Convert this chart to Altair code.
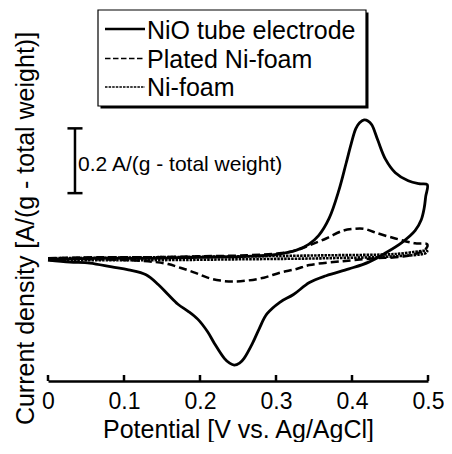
import altair as alt
import pandas as pd

FONT = "Liberation Sans"

SERIES = ["NiO tube electrode", "Plated Ni-foam", "Ni-foam"]

# NiO tube electrode: anodic sweep then cathodic sweep
NIO_V = [0.000, 0.068, 0.132, 0.197, 0.262, 0.301, 0.327, 0.343, 0.356, 0.370,
         0.383, 0.392, 0.399, 0.405, 0.410, 0.416, 0.421, 0.426, 0.434, 0.444,
         0.457, 0.474, 0.488, 0.499,
         0.497, 0.495, 0.491, 0.483, 0.466, 0.444, 0.422, 0.396, 0.366, 0.344,
         0.323, 0.305, 0.288, 0.278, 0.269, 0.258, 0.252, 0.245, 0.239, 0.232,
         0.219, 0.210, 0.197, 0.184, 0.171, 0.158, 0.145, 0.129, 0.106, 0.084,
         0.055, 0.029, 0.000]
NIO_I = [-0.004, -0.001, -0.001, 0.002, 0.005, 0.011, 0.024, 0.042, 0.069, 0.123,
         0.211, 0.290, 0.353, 0.399, 0.417, 0.426, 0.423, 0.411, 0.363, 0.305,
         0.263, 0.238, 0.229, 0.226,
         0.190, 0.154, 0.117, 0.084, 0.048, 0.015, -0.013, -0.034, -0.055, -0.076,
         -0.113, -0.137, -0.173, -0.218, -0.264, -0.310, -0.325, -0.331, -0.325, -0.310,
         -0.264, -0.228, -0.189, -0.164, -0.143, -0.113, -0.082, -0.052, -0.037, -0.028,
         -0.016, -0.013, -0.007]

PLATED_V = [0.000, 0.068, 0.132, 0.197, 0.262, 0.308, 0.327, 0.344, 0.366, 0.388,
            0.403, 0.416, 0.431, 0.457, 0.483, 0.499,
            0.497, 0.483, 0.457, 0.431, 0.388, 0.344, 0.327, 0.305, 0.284, 0.262,
            0.243, 0.227, 0.210, 0.194, 0.175, 0.158, 0.142, 0.106, 0.055, 0.000]
PLATED_I = [-0.001, 0.002, 0.002, 0.005, 0.008, 0.015, 0.024, 0.039, 0.060, 0.084,
            0.090, 0.090, 0.078, 0.060, 0.045, 0.042,
            0.027, 0.012, 0.002, -0.001, -0.010, -0.022, -0.034, -0.046, -0.061, -0.070,
            -0.073, -0.070, -0.061, -0.046, -0.031, -0.019, -0.013, -0.007, -0.004, -0.004]

FOAM_V = [0.000, 0.132, 0.262, 0.366, 0.457, 0.499,
          0.497, 0.457, 0.366, 0.262, 0.132, 0.000]
FOAM_I = [-0.001, 0.002, 0.005, 0.008, 0.012, 0.021,
          0.015, 0.005, -0.001, -0.004, -0.007, -0.007]

X_TICKS = [0, 0.1, 0.2, 0.3, 0.4, 0.5]
X_TITLE = "Potential [V vs. Ag/AgCl]"
Y_TITLE = "Current density [A/(g - total weight)]"
SCALE_LABEL = "0.2 A/(g - total weight)"
SCALE_RANGE = [0.2, 0.4]

rows = []
for name, vs, cs in zip(SERIES, [NIO_V, PLATED_V, FOAM_V], [NIO_I, PLATED_I, FOAM_I]):
    for k, (v, c) in enumerate(zip(vs, cs)):
        rows.append({"series": name, "V": v, "I": c, "idx": k})
df = pd.DataFrame(rows)

W, H = 380, 366
SVG_W, SVG_H = 436, 434
xs = alt.Scale(domain=[0, 0.5], nice=False, zero=False)
ys = alt.Scale(domain=[-0.38, 0.75], nice=False, zero=False)

x_axis = alt.Axis(values=X_TICKS, format="~g", title=X_TITLE, ticks=False, tickSize=0,
                  domain=True, domainColor="black", domainWidth=2.5,
                  labelFontSize=23, labelFont=FONT, labelColor="black", labelPadding=9,
                  labelFlush=False, labelOverlap=False, grid=False,
                  titleFontSize=25, titleFont=FONT, titleFontWeight="normal",
                  titleColor="black", titleY=56, titleBaseline="alphabetic")
y_axis = alt.Axis(title=Y_TITLE, domain=False, ticks=False, labels=False, grid=False,
                  titleFontSize=25, titleFont=FONT, titleFontWeight="normal",
                  titleColor="black", titleX=-15, titleY=213, titleAngle=270,
                  titleAlign="center", titleBaseline="alphabetic")

def X(f):
    return alt.X(f, type="quantitative", scale=xs, axis=x_axis)

def Y(f):
    return alt.Y(f, type="quantitative", scale=ys, axis=y_axis)

styles = {
    "NiO tube electrode": dict(strokeWidth=2.8),
    "Plated Ni-foam": dict(strokeWidth=2.5, strokeDash=[8, 4]),
    "Ni-foam": dict(strokeWidth=2.6, strokeDash=[2.5, 1]),
}

layers = []
for name in SERIES:
    layers.append(
        alt.Chart(df[df.series == name]).mark_line(
            color="black", interpolate="catmull-rom", **styles[name]
        ).encode(x=X("V"), y=Y("I"), order=alt.Order("idx:Q"))
    )

# ticks drawn inward from the x axis
tick_df = pd.DataFrame({"V": X_TICKS})
layers.append(
    alt.Chart(tick_df).mark_rule(color="black", strokeWidth=2.5).encode(
        x=X("V"), y=alt.value(H), y2=alt.value(H - 6)
    )
)

# scale bar
bar_x = 0.0355
cap_half = 0.0099
bar_df = pd.DataFrame({"V": [bar_x], "I": [SCALE_RANGE[0]], "I2": [SCALE_RANGE[1]]})
layers.append(
    alt.Chart(bar_df).mark_rule(color="black", strokeWidth=2.5).encode(
        x=X("V"), y=Y("I"), y2=alt.Y2("I2")
    )
)
cap_df = pd.DataFrame({"V": [bar_x - cap_half] * 2, "V2": [bar_x + cap_half] * 2,
                       "I": SCALE_RANGE})
layers.append(
    alt.Chart(cap_df).mark_rule(color="black", strokeWidth=2.5).encode(
        x=X("V"), x2=alt.X2("V2"), y=Y("I")
    )
)
lab_df = pd.DataFrame({"V": [0.0395], "I": [0.268], "label": [SCALE_LABEL]})
layers.append(
    alt.Chart(lab_df).mark_text(align="left", baseline="alphabetic", fontSize=21,
                                font=FONT, color="black").encode(
        x=X("V"), y=Y("I"), text="label:N"
    )
)

# legend box
one = pd.DataFrame({"a": [0]})
layers.append(
    alt.Chart(one).mark_rect(color="black").encode(
        x=alt.value(52.5), x2=alt.value(320.5), y=alt.value(-2.5), y2=alt.value(93.5)
    )
)
layers.append(
    alt.Chart(one).mark_rect(fill="white", stroke="black", strokeWidth=1.2).encode(
        x=alt.value(50), x2=alt.value(318), y=alt.value(-5), y2=alt.value(91)
    )
)
leg_styles = [dict(strokeWidth=2.5), dict(strokeWidth=1.5, strokeDash=[5.5, 2.5]),
              dict(strokeWidth=1.5, strokeDash=[2.5, 1.1])]
line_y = [14, 43.5, 72]
text_y = [24, 53, 80.5]
for name, st, ly, ty in zip(SERIES, leg_styles, line_y, text_y):
    layers.append(
        alt.Chart(one).mark_rule(color="black", **st).encode(
            x=alt.value(57), x2=alt.value(97), y=alt.value(ly)
        )
    )
    layers.append(
        alt.Chart(pd.DataFrame({"label": [name]})).mark_text(
            align="left", baseline="alphabetic", fontSize=25, font=FONT, color="black"
        ).encode(x=alt.value(99), y=alt.value(ty), text="label:N")
    )

chart = alt.layer(*layers).properties(
    width=W, height=H,
    autosize=alt.AutoSizeParams(type="none"),
    padding={"left": 40, "top": 7, "right": SVG_W - 40 - W, "bottom": SVG_H - 7 - H},
    background="white",
).configure_view(strokeWidth=0)

chart.save("out.html", embed_options={"renderer": "svg", "actions": False})
